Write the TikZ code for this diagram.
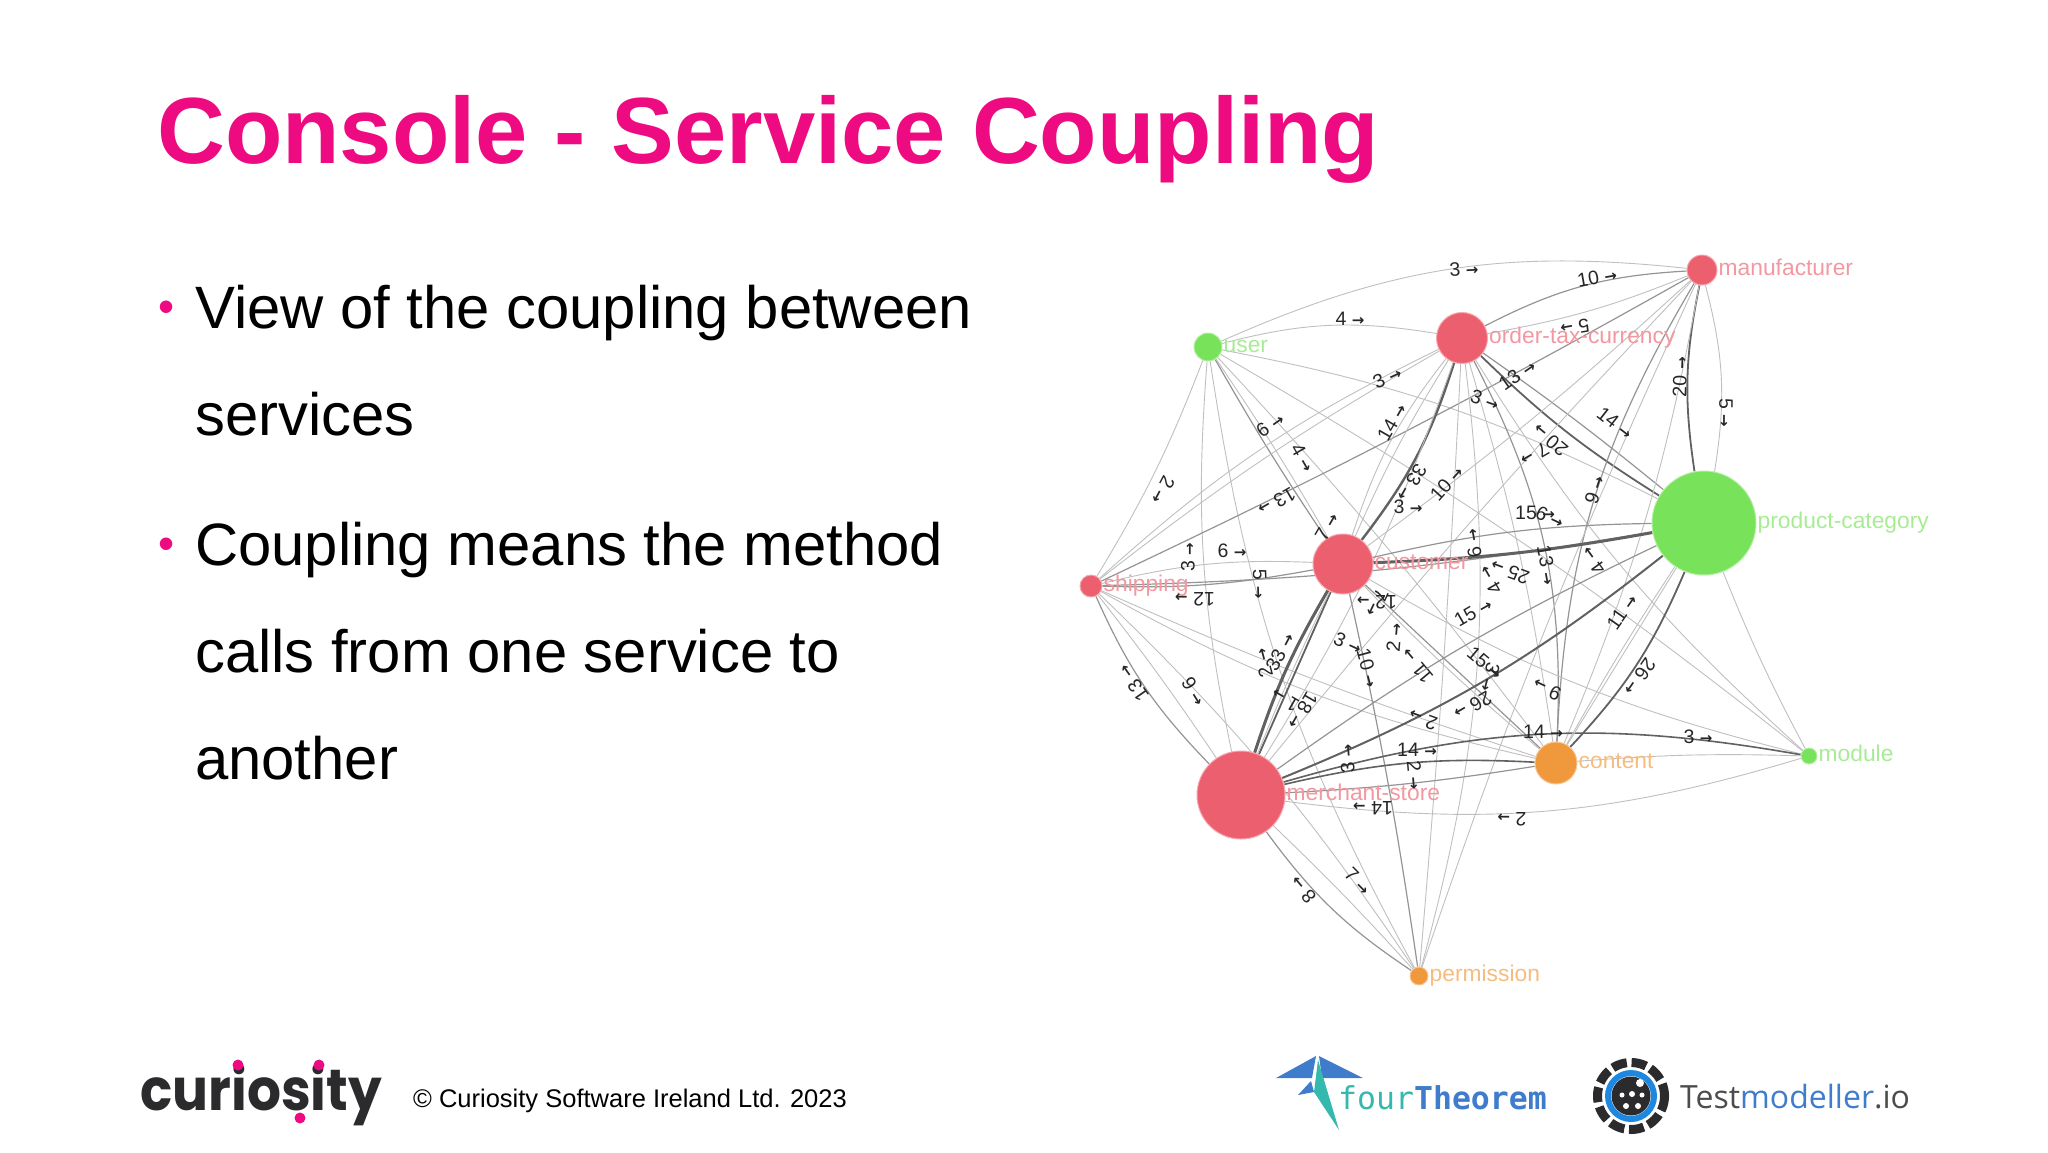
\documentclass[tikz,border=0pt]{standalone}
\usepackage{fontspec}
\usepackage{xcolor}
\setmainfont{Liberation Sans}
\newfontfamily\curiosityfont{Poppins}
\newfontfamily\fourfont{DejaVu Sans Mono}
\newfontfamily\testfont{Open Sans}
\newfontfamily\arrowfont{DejaVu Sans}
\newcommand{\callto}{{\arrowfont\bfseries\fontsize{15}{15}\selectfont →}}
\usetikzlibrary{positioning,backgrounds}
\definecolor{SlidePink}{HTML}{EE0A80}
\definecolor{SvcRed}{HTML}{EC5F6E}
\definecolor{SvcGreen}{HTML}{78E25A}
\definecolor{SvcOrange}{HTML}{F0983C}
\definecolor{InkDark}{HTML}{2B2B2E}
\definecolor{FourBlue}{HTML}{3F7CCB}
\definecolor{FourTeal}{HTML}{35B8AE}
\definecolor{ModelBlue}{HTML}{1E88E0}

\begin{document}
\begin{tikzpicture}[
  x=1pt, y=-1pt,
  svc/.style={circle, fill=#1, draw=#1!55, line width=1pt, inner sep=0pt},
  svclabel/.style={text=#1!65, font=\fontsize{22.8}{26}\selectfont, inner sep=0pt, text height=15pt, text depth=4pt},
  wirelight/.style={gray!50, line width=0.9pt},
  wiremid/.style={black!42, line width=1.2pt},
  wirebold/.style={black!62, line width=2.4pt},
  count/.style={font=\fontsize{19.5}{21}\selectfont, text=black!85, inner sep=0pt},
  bodytext/.style={anchor=base west, align=left, inner sep=0pt, font=\fontsize{59.8}{107}\selectfont},
  bulletmark/.style={anchor=base, inner sep=0pt, text=SlidePink, font=\fontsize{46}{50}\selectfont},
  logodot/.style={circle, fill=SlidePink, inner sep=0pt, minimum size=11pt}
]
\useasboundingbox (0,0) rectangle (2048,1152);

% Slide text
\node[anchor=base west, inner sep=0pt, text=SlidePink, font=\fontsize{94}{98}\selectfont\bfseries] (title) at (157,163) {Console - Service Coupling};
\node[bulletmark] (dot1) at (167,322) {•};
\node[bodytext] (para1) at (195,435) {View of the coupling between\\services};
\node[bulletmark] (dot2) at (167,559) {•};
\node[bodytext] (para2) at (195,779) {Coupling means the method\\calls from one service to\\another};

% Services
\node[svc=SvcGreen, minimum size=28pt] (usr) at (1208,347) {};
\node[svc=SvcRed, minimum size=51pt] (otc) at (1462,338) {};
\node[svc=SvcRed, minimum size=30pt] (mfr) at (1702,270) {};
\node[svc=SvcGreen, minimum size=104pt] (pcat) at (1704,523) {};
\node[svc=SvcRed, minimum size=60pt] (cust) at (1343,564) {};
\node[svc=SvcRed, minimum size=22pt] (ship) at (1091,586) {};
\node[svc=SvcRed, minimum size=88pt] (mstore) at (1241,795) {};
\node[svc=SvcOrange, minimum size=42pt] (cont) at (1556,763) {};
\node[svc=SvcGreen, minimum size=16pt] (modl) at (1809,756) {};
\node[svc=SvcOrange, minimum size=18pt] (perm) at (1419,976) {};

\node[svclabel=SvcGreen, right=1pt of usr] (usr-l) {user};
\node[svclabel=SvcRed, right=1pt of otc] (otc-l) {order-tax-currency};
\node[svclabel=SvcRed, right=1pt of mfr] (mfr-l) {manufacturer};
\node[svclabel=SvcGreen, right=1pt of pcat] (pcat-l) {product-category};
\node[svclabel=SvcRed, right=1pt of cust] (cust-l) {customer};
\node[svclabel=SvcRed, right=1pt of ship] (ship-l) {shipping};
\node[svclabel=SvcRed, right=1pt of mstore] (mstore-l) {merchant-store};
\node[svclabel=SvcOrange, right=1pt of cont] (cont-l) {content};
\node[svclabel=SvcGreen, right=1pt of modl] (modl-l) {module};
\node[svclabel=SvcOrange, right=1pt of perm] (perm-l) {permission};

% Couplings, behind the services
\begin{scope}[on background layer]
\draw[wirelight] (usr) to[bend left=15] (mfr);
\draw[wirelight] (usr) to[bend left=12] (otc);
\draw[wirelight] (usr) to[bend left=5] (ship);
\draw[wiremid] (usr) to[bend right=2] (cust);
\draw[wirelight] (usr) to[bend left=2] (cust);
\draw[wirelight] (usr) to[bend right=8] (mstore);
\draw[wirelight] (usr) to[bend right=10] (perm);
\draw[wirelight] (usr) to[bend left=3] (cont);
\draw[wirelight] (usr) to[bend left=8] (pcat);
\draw[wirelight] (usr) to[bend left=4] (modl);

\draw[wirelight] (ship) to[bend left=8] (cust);
\draw[wiremid] (ship) to[bend right=6] (cust);
\draw[wirelight] (ship) to[bend left=8] (otc);
\draw[wirelight] (ship) to[bend left=4] (otc);
\draw[wiremid] (ship) to[bend right=2] (mfr);
\draw[wiremid] (ship) to[bend right=4] (pcat);
\draw[wiremid] (ship) to[bend right=10] (mstore);
\draw[wirelight] (ship) to[bend left=2] (mstore);
\draw[wirelight] (ship) to[bend right=3] (cont);
\draw[wirelight] (ship) to[bend right=8] (cont);
\draw[wirelight] (ship) to[bend left=6] (perm);

\draw[wirebold] (otc) to[bend left=10] (cust);
\draw[wirelight] (otc) to[bend right=10] (cust);
\draw[wirelight] (otc) to[bend right=4] (cust);
\draw[wirelight] (otc) to[bend left=6] (mstore);
\draw[wiremid] (otc) to[bend left=12] (mfr);
\draw[wirelight] (otc) to[bend right=6] (mfr);
\draw[wirebold, line width=1.8pt] (otc) to[bend right=6] (pcat);
\draw[wiremid] (otc) to[bend left=2] (pcat);
\draw[wirelight] (otc) to[bend left=11] (perm);
\draw[wirelight] (otc) to[bend left=1] (perm);
\draw[wiremid] (otc) to[bend left=15] (cont);
\draw[wirelight] (otc) to[bend left=4] (cont);
\draw[wirelight] (otc) to[bend right=8] (modl);

\draw[wirebold, line width=1.8pt] (mfr) to[bend right=10] (pcat);
\draw[wirelight] (mfr) to[bend left=12] (pcat);
\draw[wiremid] (mfr) to[bend right=14] (cont);
\draw[wirelight] (mfr) to[bend left=6] (cont);
\draw[wirelight] (mfr) to[bend right=3] (perm);
\draw[wirelight] (mfr) to[bend right=2] (mstore);
\draw[wirelight] (mfr) to[bend left=3] (cust);

\draw[wirebold, line width=3pt] (cust) to[bend right=4] (pcat);
\draw[wiremid] (cust) to[bend left=6] (pcat);
\draw[wirebold, line width=3pt] (cust) to[bend right=6] (mstore);
\draw[wirebold, line width=1.8pt] (cust) to (mstore);
\draw[wirelight] (cust) to[bend right=2] (mstore);
\draw[wiremid] (cust) to[bend left=2] (perm);
\draw[wiremid] (cust) to (cont);
\draw[wirelight] (cust) to[bend right=3] (cont);
\draw[wirelight] (cust) to[bend right=8] (modl);

\draw[wirebold, line width=2pt] (mstore) to[bend right=8] (pcat);
\draw[wiremid] (mstore) to[bend left=5] (pcat);
\draw[wirebold, line width=1.6pt] (mstore) to[bend left=8] (cont);
\draw[wiremid] (mstore) to[bend right=3] (cont);
\draw[wirebold, line width=1.6pt] (mstore) to[bend left=13] (modl);
\draw[wirelight] (mstore) to[bend right=12] (modl);
\draw[wiremid] (mstore) to[bend right=10] (perm);
\draw[wirelight] (mstore) to[bend left=2] (perm);

\draw[wirebold, line width=1.8pt] (pcat) to[bend left=10] (cont);
\draw[wirelight] (pcat) to (cont);
\draw[wirelight] (pcat) to[bend right=2] (cont);
\draw[wirelight] (pcat) to[bend right=3] (modl);
\draw[wirelight] (cont) to[bend left=3] (modl);
\end{scope}

% Call counts
\node[count, rotate=3] (c01) at (1464,269) {3 \callto};
\node[count] (c02) at (1350,319) {4 \callto};
\node[count, rotate=25] (c03) at (1387,377) {3 \callto};
\node[count, rotate=35] (c04) at (1270,425) {6 \callto};
\node[count, rotate=-60] (c05) at (1303,458) {4 \callto};
\node[count, rotate=-118] (c06) at (1163,490) {2 \callto};
\node[count, rotate=210] (c07) at (1277,502) {13 \callto};
\node[count, rotate=60] (c08) at (1392,422) {14 \callto};
\node[count, rotate=-20] (c09) at (1485,400) {3 \callto};
\node[count, rotate=35] (c10) at (1517,375) {13 \callto};
\node[count, rotate=48] (c11) at (1447,483) {10 \callto};
\node[count] (c12) at (1408,507) {3 \callto};
\node[count, rotate=240] (c13) at (1412,483) {33 \callto};
\node[count, rotate=60] (c14) at (1327,527) {7 \callto};
\node[count, rotate=10] (c15) at (1597,277) {10 \callto};
\node[count, rotate=190] (c16) at (1575,328) {5 \callto};
\node[count, rotate=-38] (c17) at (1615,423) {14 \callto};
\node[count, rotate=140] (c18) at (1550,440) {20 \callto};
\node[count, rotate=210] (c19) at (1535,455) {7 \callto};
\node[count, rotate=88] (c20) at (1680,377) {20 \callto};
\node[count, rotate=-90] (c21) at (1726,413) {5 \callto};
\node[count, rotate=72] (c22) at (1595,490) {9 \callto};
\node[count] (c23) at (1535,513) {15 \callto};
\node[count, rotate=-25] (c24) at (1550,517) {6 \callto};
\node[count, rotate=-80] (c25) at (1547,565) {13 \callto};
\node[count, rotate=126] (c26) at (1593,561) {4 \callto};
\node[count, rotate=160] (c27) at (1510,572) {25 \callto};
\node[count, rotate=120] (c28) at (1490,580) {4 \callto};
\node[count, rotate=30] (c29) at (1473,612) {15 \callto};
\node[count, rotate=100] (c30) at (1473,543) {6 \callto};
\node[count, rotate=90] (c31) at (1188,557) {3 \callto};
\node[count] (c32) at (1232,551) {6 \callto};
\node[count, rotate=-88] (c33) at (1260,584) {5 \callto};
\node[count, rotate=180] (c34) at (1195,599) {12 \callto};
\node[count, rotate=125] (c35) at (1133,683) {13 \callto};
\node[count, rotate=-58] (c36) at (1194,691) {9 \callto};
\node[count, rotate=105] (c37) at (1263,663) {2 \callto};
\node[count, rotate=62] (c38) at (1280,652) {33 \callto};
\node[count, rotate=240] (c39) at (1303,711) {18 \callto};
\node[count, rotate=150] (c40) at (1285,700) {1 \callto};
\node[count, rotate=-25] (c41) at (1348,643) {3 \callto};
\node[count, rotate=-75] (c42) at (1368,668) {10 \callto};
\node[count, rotate=85] (c43) at (1394,638) {2 \callto};
\node[count, rotate=130] (c44) at (1417,666) {11 \callto};
\node[count, rotate=180] (c45) at (1377,602) {12 \callto};
\node[count, rotate=245] (c46) at (1377,603) {7 \callto};
\node[count, rotate=-40] (c47) at (1485,663) {15 \callto};
\node[count, rotate=255] (c48) at (1490,677) {3 \callto};
\node[count, rotate=210] (c49) at (1473,706) {26 \callto};
\node[count, rotate=160] (c50) at (1423,720) {2 \callto};
\node[count] (c51) at (1417,750) {14 \callto};
\node[count, rotate=95] (c52) at (1347,759) {3 \callto};
\node[count, rotate=-85] (c53) at (1415,775) {2 \callto};
\node[count, rotate=180] (c54) at (1373,808) {14 \callto};
\node[count, rotate=180] (c55) at (1512,819) {2 \callto};
\node[count, rotate=155] (c56) at (1547,689) {9 \callto};
\node[count] (c57) at (1543,732) {14 \callto};
\node[count, rotate=55] (c58) at (1622,612) {11 \callto};
\node[count, rotate=235] (c59) at (1640,677) {26 \callto};
\node[count] (c60) at (1698,737) {3 \callto};
\node[count, rotate=130] (c61) at (1303,890) {8 \callto};
\node[count, rotate=-45] (c62) at (1358,881) {7 \callto};

% Footer
\node[anchor=base west, inner sep=0pt, xscale=0.92, font=\fontsize{58}{60}\selectfont\curiosityfont\bfseries, text=InkDark] (curiosity) at (140,1110) {curiosity};
\node[logodot] (idot1) at (238,1065) {};
\node[logodot] (idot2) at (319,1065) {};
\node[logodot] (sdot) at (300,1118) {};
\node[anchor=base west, inner sep=0pt, font=\fontsize{25.5}{28}\selectfont] (copyright) at (413,1107) {© Curiosity Software Ireland Ltd. 2023};

\fill[FourBlue] (1316,1056) -- (1276,1078) -- (1312,1078) -- cycle;
\fill[FourBlue] (1319,1056) -- (1363,1078) -- (1322,1078) -- cycle;
\fill[FourBlue] (1311,1081) -- (1298,1095) -- (1314,1092) -- cycle;
\fill[FourTeal] (1318,1060) -- (1339,1130) -- (1314,1092) -- cycle;
\node[anchor=base west, inner sep=0pt, font=\fontsize{31.5}{34}\selectfont\fourfont] (fourtheorem) at (1338,1109) {\textcolor{FourTeal}{four}\textcolor{FourBlue}{\bfseries Theorem}};

\draw[InkDark, line width=9pt, dash pattern=on 15pt off 4.8pt] (1631,1096) circle (33.5);
\draw[ModelBlue, line width=6pt] (1631,1096) circle (23);
\fill[InkDark] (1631,1096) circle (19.5);
\fill[white] (1640,1083) circle (4);
\fill[white] (1632,1094) circle (3);
\fill[white] (1622,1095) circle (2.5);
\fill[white] (1642,1095) circle (2.5);
\fill[white] (1626,1106) circle (3);
\fill[white] (1638,1106) circle (3);
\node[anchor=base west, inner sep=0pt, font=\fontsize{32}{34}\selectfont\testfont, text=black!70] (testmodeller) at (1680,1108) {Test\textcolor{FourBlue}{modeller}.io};
\end{tikzpicture}
\end{document}
